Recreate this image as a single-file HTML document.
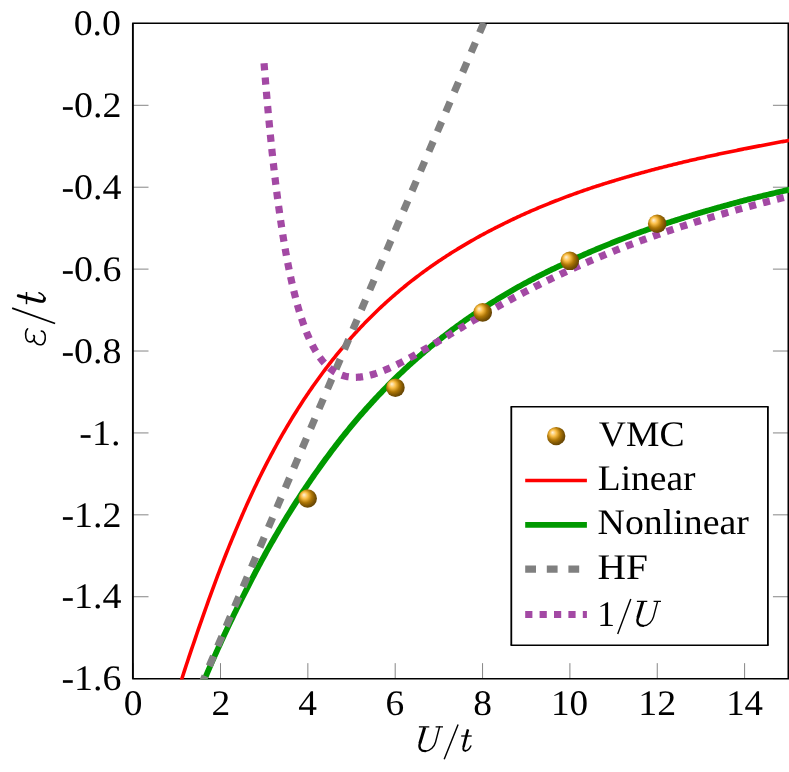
<!DOCTYPE html>
<html><head><meta charset="utf-8"><title>plot</title>
<style>
html,body{margin:0;padding:0;background:#fff;}
svg{display:block;}
text{font-family:"Liberation Serif",serif;fill:#000;text-rendering:geometricPrecision;}
svg{will-change:transform;}
</style></head><body>
<svg width="789" height="772" viewBox="0 0 789 772">
<defs>
<clipPath id="cp"><rect x="132.15" y="22.65" width="657.15" height="656.75"/></clipPath>
<radialGradient id="ball" cx="0.5" cy="0.5" r="1" fx="0.3" fy="0.3">
<stop offset="0" stop-color="rgb(254,242,218)"/>
<stop offset="0.18" stop-color="rgb(250,190,70)"/>
<stop offset="0.36" stop-color="rgb(174,118,6)"/>
<stop offset="0.5" stop-color="rgb(124,84,4)"/>
<stop offset="1" stop-color="rgb(0,0,0)"/>
</radialGradient>
</defs>
<rect width="789" height="772" fill="#fff"/>

<g stroke="#808080" stroke-width="0.95" fill="none">
<path d="M133.15 678.65 V663.15"/>
<path d="M220.50 678.65 V663.15"/>
<path d="M307.85 678.65 V663.15"/>
<path d="M395.20 678.65 V663.15"/>
<path d="M482.55 678.65 V663.15"/>
<path d="M569.90 678.65 V663.15"/>
<path d="M657.25 678.65 V663.15"/>
<path d="M744.60 678.65 V663.15"/>
<path d="M133.00 23.40 H148.50 M788.45 23.40 H772.95"/>
<path d="M133.00 105.31 H148.50 M788.45 105.31 H772.95"/>
<path d="M133.00 187.21 H148.50 M788.45 187.21 H772.95"/>
<path d="M133.00 269.12 H148.50 M788.45 269.12 H772.95"/>
<path d="M133.00 351.02 H148.50 M788.45 351.02 H772.95"/>
<path d="M133.00 432.93 H148.50 M788.45 432.93 H772.95"/>
<path d="M133.00 514.84 H148.50 M788.45 514.84 H772.95"/>
<path d="M133.00 596.74 H148.50 M788.45 596.74 H772.95"/>
<path d="M133.00 678.65 H148.50 M788.45 678.65 H772.95"/>
</g>
<path d="M132.90 23.35 H788.45 M132.90 678.65 H788.45" stroke="#000" stroke-width="1.5" fill="none" stroke-linecap="square"/>
<path d="M132.90 23.35 V678.65 M788.45 23.35 V678.65" stroke="#000" stroke-width="1.9" fill="none"/>
<g clip-path="url(#cp)" fill="none">
<path d="M166.84 730.12 L168.12 725.60 L169.39 721.10 L170.66 716.63 L171.94 712.19 L173.21 707.77 L174.48 703.39 L175.76 699.03 L177.03 694.70 L178.30 690.40 L179.58 686.13 L180.85 681.89 L182.19 677.70 L183.54 673.53 L184.88 669.40 L186.22 665.30 L187.57 661.22 L188.91 657.18 L190.26 653.17 L191.60 649.18 L192.95 645.23 L194.29 641.31 L195.62 637.41 L196.93 633.53 L198.25 629.69 L199.57 625.87 L200.89 622.09 L202.20 618.33 L203.52 614.61 L204.84 610.91 L206.13 607.24 L207.42 603.59 L208.72 599.97 L210.01 596.38 L211.30 592.82 L212.59 589.29 L213.88 585.78 L215.17 582.31 L216.46 578.86 L217.74 575.44 L219.03 572.04 L220.31 568.68 L221.60 565.34 L222.88 562.03 L224.17 558.74 L225.45 555.49 L226.74 552.26 L228.02 549.06 L229.30 545.88 L230.59 542.73 L231.87 539.61 L233.16 536.51 L234.44 533.44 L235.72 530.39 L236.99 527.37 L238.25 524.36 L239.52 521.39 L240.79 518.44 L242.05 515.51 L243.32 512.61 L244.58 509.73 L245.85 506.88 L247.12 504.05 L248.38 501.24 L249.65 498.46 L250.91 495.70 L252.18 492.97 L253.45 490.26 L254.71 487.57 L255.98 484.90 L257.24 482.26 L258.51 479.64 L259.79 477.04 L261.06 474.47 L262.33 471.92 L263.61 469.39 L264.88 466.88 L266.16 464.40 L267.43 461.93 L268.70 459.49 L269.98 457.06 L271.25 454.66 L272.53 452.28 L273.80 449.92 L275.08 447.58 L276.35 445.26 L277.62 442.95 L278.90 440.67 L280.17 438.41 L281.44 436.16 L282.72 433.94 L283.99 431.73 L285.27 429.55 L286.54 427.38 L287.81 425.23 L289.09 423.09 L290.36 420.98 L291.63 418.88 L292.91 416.80 L294.18 414.74 L295.45 412.70 L296.73 410.67 L298.00 408.66 L299.27 406.67 L300.55 404.69 L301.82 402.73 L303.09 400.79 L304.37 398.86 L305.64 396.95 L306.91 395.06 L308.19 393.18 L309.46 391.31 L310.73 389.46 L312.00 387.63 L313.28 385.81 L314.55 384.01 L315.82 382.22 L317.10 380.45 L318.37 378.69 L319.63 376.94 L320.90 375.21 L322.17 373.49 L323.43 371.78 L324.70 370.09 L325.97 368.41 L327.24 366.75 L328.50 365.10 L329.77 363.46 L331.04 361.84 L332.31 360.23 L333.57 358.63 L334.84 357.04 L336.11 355.47 L337.38 353.91 L338.64 352.36 L339.91 350.83 L341.18 349.30 L342.44 347.79 L343.71 346.29 L344.98 344.81 L346.25 343.33 L347.51 341.87 L348.78 340.42 L350.05 338.98 L351.32 337.55 L352.58 336.13 L353.85 334.73 L355.12 333.33 L356.39 331.95 L357.66 330.58 L358.93 329.21 L360.20 327.86 L361.47 326.52 L362.74 325.19 L364.00 323.87 L365.27 322.56 L366.54 321.26 L367.81 319.97 L369.08 318.69 L370.35 317.42 L371.62 316.16 L372.88 314.91 L374.15 313.67 L375.42 312.44 L376.69 311.21 L377.96 310.00 L379.23 308.80 L380.50 307.60 L381.76 306.41 L383.03 305.24 L384.30 304.07 L385.57 302.91 L386.84 301.76 L388.11 300.62 L389.37 299.48 L390.64 298.36 L391.91 297.24 L393.18 296.13 L394.45 295.03 L395.72 293.94 L396.99 292.85 L398.25 291.77 L399.52 290.71 L400.79 289.64 L402.06 288.59 L403.33 287.55 L404.59 286.51 L405.86 285.48 L407.13 284.45 L408.40 283.44 L409.67 282.43 L410.94 281.43 L412.20 280.43 L413.47 279.45 L414.74 278.47 L416.01 277.49 L417.28 276.53 L418.54 275.57 L419.81 274.62 L421.08 273.67 L422.35 272.73 L423.62 271.80 L424.89 270.87 L426.15 269.95 L427.42 269.04 L428.69 268.13 L429.96 267.23 L431.23 266.34 L432.49 265.45 L433.76 264.57 L435.03 263.69 L436.30 262.82 L437.57 261.96 L438.83 261.10 L440.10 260.25 L441.37 259.40 L442.64 258.56 L443.91 257.73 L445.17 256.90 L446.44 256.08 L447.71 255.26 L448.98 254.45 L450.25 253.64 L451.51 252.84 L452.78 252.04 L454.05 251.25 L455.32 250.46 L456.59 249.68 L457.85 248.91 L459.12 248.14 L460.39 247.37 L461.66 246.61 L462.92 245.85 L464.19 245.09 L465.45 244.34 L466.72 243.60 L467.98 242.86 L469.25 242.12 L470.51 241.39 L471.78 240.66 L473.04 239.94 L474.31 239.22 L475.57 238.51 L476.84 237.80 L478.10 237.10 L479.37 236.40 L480.64 235.70 L481.90 235.01 L483.17 234.33 L484.43 233.64 L485.70 232.97 L486.96 232.29 L488.23 231.62 L489.50 230.96 L490.76 230.30 L492.03 229.64 L493.29 228.99 L494.56 228.34 L495.82 227.69 L497.09 227.05 L498.36 226.41 L499.62 225.78 L500.89 225.15 L502.15 224.52 L503.41 223.89 L504.68 223.26 L505.94 222.64 L507.20 222.03 L508.47 221.41 L509.73 220.80 L510.99 220.20 L512.26 219.60 L513.52 219.00 L514.78 218.40 L516.05 217.81 L517.31 217.22 L518.57 216.63 L519.84 216.05 L521.10 215.47 L522.37 214.90 L523.63 214.33 L524.89 213.76 L526.16 213.19 L527.42 212.63 L528.69 212.07 L529.95 211.51 L531.21 210.96 L532.48 210.41 L533.74 209.86 L535.01 209.32 L536.27 208.78 L537.54 208.24 L538.80 207.70 L540.07 207.17 L541.33 206.64 L542.60 206.12 L543.86 205.60 L545.13 205.08 L546.39 204.57 L547.66 204.06 L548.93 203.55 L550.19 203.04 L551.46 202.54 L552.72 202.04 L553.99 201.54 L555.26 201.04 L556.52 200.55 L557.79 200.06 L559.05 199.57 L560.32 199.08 L561.59 198.60 L562.85 198.12 L564.12 197.64 L565.39 197.17 L566.65 196.69 L567.92 196.22 L569.18 195.76 L570.45 195.29 L571.72 194.83 L572.98 194.37 L574.25 193.91 L575.52 193.45 L576.78 193.00 L578.05 192.55 L579.32 192.10 L580.58 191.65 L581.85 191.21 L583.12 190.76 L584.38 190.32 L585.65 189.89 L586.92 189.45 L588.18 189.02 L589.45 188.58 L590.72 188.16 L591.99 187.74 L593.26 187.32 L594.53 186.90 L595.79 186.49 L597.06 186.08 L598.33 185.67 L599.60 185.26 L600.87 184.86 L602.14 184.45 L603.41 184.05 L604.68 183.65 L605.95 183.25 L607.22 182.86 L608.49 182.46 L609.76 182.07 L611.03 181.68 L612.29 181.29 L613.56 180.91 L614.83 180.52 L616.10 180.14 L617.37 179.76 L618.64 179.38 L619.91 179.00 L621.18 178.62 L622.45 178.25 L623.72 177.88 L624.99 177.51 L626.26 177.14 L627.52 176.77 L628.79 176.40 L630.06 176.04 L631.33 175.68 L632.60 175.32 L633.87 174.96 L635.14 174.60 L636.41 174.24 L637.68 173.89 L638.95 173.54 L640.22 173.19 L641.49 172.84 L642.76 172.49 L644.03 172.15 L645.30 171.80 L646.56 171.46 L647.83 171.12 L649.10 170.78 L650.37 170.44 L651.64 170.10 L652.91 169.77 L654.18 169.43 L655.45 169.10 L656.72 168.77 L657.99 168.44 L659.26 168.11 L660.53 167.78 L661.80 167.46 L663.07 167.13 L664.34 166.81 L665.61 166.49 L666.88 166.17 L668.14 165.85 L669.41 165.53 L670.68 165.22 L671.95 164.90 L673.22 164.59 L674.49 164.27 L675.76 163.96 L677.03 163.65 L678.30 163.34 L679.57 163.03 L680.84 162.73 L682.11 162.42 L683.38 162.12 L684.65 161.81 L685.92 161.51 L687.19 161.21 L688.45 160.91 L689.72 160.61 L690.99 160.32 L692.26 160.02 L693.53 159.73 L694.80 159.44 L696.07 159.15 L697.34 158.86 L698.61 158.57 L699.88 158.28 L701.15 158.00 L702.42 157.71 L703.69 157.43 L704.96 157.15 L706.23 156.86 L707.50 156.58 L708.77 156.30 L710.04 156.02 L711.31 155.75 L712.58 155.47 L713.85 155.19 L715.12 154.92 L716.39 154.64 L717.66 154.37 L718.93 154.10 L720.20 153.83 L721.47 153.56 L722.74 153.29 L724.01 153.02 L725.28 152.75 L726.55 152.48 L727.82 152.22 L729.09 151.95 L730.36 151.69 L731.63 151.43 L732.90 151.17 L734.17 150.91 L735.44 150.65 L736.71 150.39 L737.98 150.14 L739.25 149.88 L740.52 149.62 L741.79 149.37 L743.06 149.12 L744.33 148.86 L745.60 148.61 L746.87 148.36 L748.14 148.11 L749.41 147.86 L750.68 147.61 L751.95 147.36 L753.22 147.12 L754.49 146.87 L755.77 146.63 L757.04 146.38 L758.31 146.14 L759.58 145.89 L760.85 145.65 L762.12 145.41 L763.39 145.17 L764.66 144.93 L765.93 144.69 L767.20 144.45 L768.47 144.21 L769.74 143.97 L771.01 143.73 L772.28 143.50 L773.55 143.26 L774.82 143.03 L776.09 142.79 L777.36 142.55 L778.63 142.32 L779.90 142.08 L781.17 141.85 L782.44 141.62 L783.71 141.38 L784.98 141.15 L786.25 140.92 L787.52 140.69 L788.79 140.46 L790.05 140.23 L791.32 140.00 L792.59 139.77 L793.86 139.55 L795.13 139.32 L796.40 139.09 L797.67 138.87 L798.94 138.64 L800.21 138.41 L801.48 138.18" stroke="#ff0000" stroke-width="3.6"/>
<path d="M167.94 773.80 L169.21 770.29 L170.48 766.80 L171.75 763.33 L173.02 759.87 L174.29 756.43 L175.56 753.00 L176.83 749.60 L178.10 746.20 L179.37 742.83 L180.64 739.47 L181.91 736.13 L183.18 732.80 L184.44 729.49 L185.71 726.20 L186.98 722.92 L188.25 719.66 L189.52 716.42 L190.79 713.19 L192.06 709.98 L193.33 706.79 L194.60 703.61 L195.87 700.45 L197.14 697.31 L198.41 694.19 L199.68 691.08 L200.94 687.98 L202.21 684.91 L203.48 681.85 L204.75 678.81 L206.02 675.78 L207.29 672.77 L208.57 669.78 L209.87 666.82 L211.16 663.87 L212.45 660.94 L213.75 658.02 L215.04 655.12 L216.34 652.24 L217.63 649.37 L218.93 646.52 L220.22 643.69 L221.51 640.87 L222.81 638.07 L224.10 635.29 L225.40 632.52 L226.69 629.77 L227.98 627.04 L229.28 624.32 L230.57 621.61 L231.86 618.92 L233.16 616.25 L234.45 613.60 L235.75 610.96 L237.04 608.33 L238.33 605.72 L239.63 603.13 L240.92 600.55 L242.21 597.99 L243.50 595.44 L244.80 592.91 L246.08 590.39 L247.35 587.88 L248.62 585.38 L249.89 582.90 L251.16 580.43 L252.43 577.98 L253.70 575.54 L254.97 573.12 L256.24 570.71 L257.51 568.32 L258.78 565.94 L260.05 563.57 L261.32 561.22 L262.59 558.89 L263.86 556.56 L265.13 554.26 L266.40 551.96 L267.67 549.68 L268.94 547.41 L270.21 545.16 L271.48 542.92 L272.75 540.70 L274.02 538.49 L275.29 536.29 L276.56 534.10 L277.83 531.93 L279.10 529.78 L280.37 527.63 L281.64 525.50 L282.91 523.38 L284.18 521.28 L285.44 519.18 L286.71 517.10 L287.98 515.04 L289.25 512.98 L290.52 510.94 L291.79 508.91 L293.06 506.90 L294.33 504.89 L295.60 502.90 L296.87 500.92 L298.14 498.95 L299.41 497.00 L300.68 495.05 L301.95 493.12 L303.22 491.20 L304.49 489.29 L305.75 487.40 L307.02 485.51 L308.29 483.64 L309.56 481.78 L310.83 479.93 L312.10 478.09 L313.37 476.26 L314.64 474.45 L315.91 472.64 L317.18 470.85 L318.45 469.07 L319.72 467.29 L320.98 465.53 L322.24 463.77 L323.50 462.03 L324.76 460.29 L326.02 458.57 L327.28 456.85 L328.54 455.15 L329.80 453.45 L331.06 451.77 L332.32 450.10 L333.58 448.43 L334.84 446.78 L336.11 445.14 L337.37 443.50 L338.63 441.88 L339.89 440.26 L341.15 438.66 L342.41 437.06 L343.67 435.48 L344.93 433.90 L346.19 432.34 L347.45 430.78 L348.71 429.23 L349.97 427.69 L351.23 426.17 L352.49 424.65 L353.75 423.13 L355.01 421.63 L356.27 420.14 L357.53 418.66 L358.80 417.18 L360.06 415.71 L361.32 414.26 L362.59 412.81 L363.85 411.38 L365.12 409.95 L366.38 408.53 L367.65 407.12 L368.92 405.72 L370.18 404.32 L371.45 402.94 L372.71 401.56 L373.98 400.19 L375.24 398.83 L376.51 397.47 L377.78 396.13 L379.04 394.79 L380.31 393.46 L381.57 392.14 L382.84 390.83 L384.11 389.52 L385.37 388.22 L386.64 386.93 L387.90 385.65 L389.17 384.37 L390.43 383.10 L391.70 381.84 L392.97 380.59 L394.23 379.34 L395.50 378.10 L396.76 376.87 L398.03 375.64 L399.30 374.43 L400.56 373.22 L401.84 372.02 L403.11 370.83 L404.38 369.65 L405.65 368.47 L406.93 367.30 L408.20 366.14 L409.47 364.98 L410.74 363.83 L412.02 362.69 L413.29 361.56 L414.56 360.43 L415.83 359.30 L417.10 358.19 L418.38 357.08 L419.65 355.98 L420.92 354.88 L422.19 353.79 L423.47 352.70 L424.74 351.63 L426.01 350.55 L427.28 349.49 L428.55 348.43 L429.83 347.37 L431.10 346.33 L432.37 345.28 L433.64 344.25 L434.91 343.22 L436.18 342.19 L437.46 341.18 L438.73 340.16 L440.00 339.16 L441.27 338.16 L442.55 337.16 L443.82 336.18 L445.09 335.19 L446.37 334.22 L447.64 333.25 L448.91 332.28 L450.19 331.32 L451.46 330.37 L452.73 329.42 L454.01 328.47 L455.28 327.54 L456.55 326.60 L457.83 325.67 L459.10 324.75 L460.37 323.83 L461.65 322.92 L462.92 322.01 L464.19 321.11 L465.47 320.21 L466.74 319.32 L468.01 318.43 L469.28 317.55 L470.56 316.67 L471.83 315.80 L473.10 314.93 L474.37 314.07 L475.65 313.21 L476.92 312.36 L478.19 311.51 L479.46 310.66 L480.74 309.82 L482.01 308.99 L483.28 308.15 L484.55 307.33 L485.83 306.51 L487.10 305.69 L488.37 304.88 L489.64 304.07 L490.92 303.26 L492.19 302.46 L493.46 301.67 L494.73 300.88 L496.00 300.09 L497.28 299.31 L498.55 298.53 L499.82 297.75 L501.09 296.98 L502.36 296.22 L503.64 295.45 L504.91 294.70 L506.18 293.94 L507.45 293.19 L508.72 292.45 L510.00 291.70 L511.27 290.96 L512.54 290.23 L513.81 289.50 L515.08 288.77 L516.35 288.05 L517.62 287.33 L518.90 286.62 L520.17 285.91 L521.44 285.20 L522.72 284.51 L523.99 283.82 L525.27 283.13 L526.55 282.44 L527.82 281.76 L529.10 281.08 L530.37 280.41 L531.65 279.74 L532.92 279.07 L534.20 278.41 L535.48 277.75 L536.75 277.09 L538.03 276.44 L539.30 275.79 L540.58 275.15 L541.85 274.50 L543.13 273.87 L544.40 273.23 L545.68 272.60 L546.95 271.97 L548.23 271.34 L549.50 270.72 L550.78 270.10 L552.05 269.48 L553.32 268.87 L554.60 268.26 L555.87 267.65 L557.15 267.05 L558.42 266.45 L559.70 265.85 L560.97 265.26 L562.24 264.65 L563.50 264.04 L564.77 263.44 L566.03 262.84 L567.30 262.24 L568.57 261.65 L569.83 261.06 L571.10 260.47 L572.36 259.89 L573.63 259.30 L574.90 258.72 L576.16 258.15 L577.43 257.57 L578.69 257.00 L579.96 256.44 L581.23 255.87 L582.49 255.31 L583.76 254.75 L585.02 254.19 L586.29 253.64 L587.56 253.08 L588.82 252.54 L590.09 251.99 L591.36 251.44 L592.62 250.90 L593.89 250.36 L595.15 249.83 L596.42 249.29 L597.69 248.76 L598.95 248.23 L600.22 247.71 L601.48 247.18 L602.75 246.66 L604.02 246.14 L605.28 245.62 L606.55 245.10 L607.81 244.59 L609.08 244.08 L610.34 243.57 L611.61 243.06 L612.87 242.55 L614.14 242.05 L615.40 241.55 L616.67 241.05 L617.93 240.56 L619.20 240.07 L620.46 239.57 L621.73 239.09 L622.99 238.60 L624.26 238.12 L625.53 237.63 L626.79 237.15 L628.06 236.68 L629.32 236.20 L630.59 235.73 L631.85 235.26 L633.12 234.79 L634.38 234.32 L635.65 233.86 L636.92 233.39 L638.18 232.93 L639.45 232.47 L640.71 232.02 L641.98 231.57 L643.25 231.12 L644.51 230.67 L645.78 230.23 L647.05 229.78 L648.31 229.34 L649.58 228.90 L650.85 228.47 L652.12 228.03 L653.38 227.60 L654.65 227.17 L655.92 226.74 L657.18 226.31 L658.45 225.88 L659.72 225.46 L660.98 225.04 L662.25 224.62 L663.52 224.20 L664.78 223.78 L666.05 223.37 L667.32 222.96 L668.59 222.55 L669.85 222.14 L671.12 221.73 L672.39 221.33 L673.65 220.92 L674.92 220.52 L676.19 220.12 L677.46 219.72 L678.72 219.33 L679.99 218.93 L681.26 218.53 L682.52 218.14 L683.79 217.74 L685.05 217.35 L686.32 216.96 L687.58 216.56 L688.85 216.18 L690.11 215.79 L691.38 215.40 L692.64 215.02 L693.91 214.64 L695.17 214.26 L696.44 213.88 L697.71 213.50 L698.97 213.12 L700.24 212.75 L701.50 212.38 L702.77 212.01 L704.03 211.64 L705.30 211.27 L706.57 210.90 L707.83 210.54 L709.10 210.17 L710.36 209.81 L711.63 209.45 L712.89 209.09 L714.16 208.73 L715.43 208.38 L716.69 208.02 L717.96 207.67 L719.22 207.32 L720.49 206.97 L721.75 206.61 L723.02 206.25 L724.28 205.90 L725.54 205.55 L726.81 205.20 L728.07 204.85 L729.34 204.50 L730.60 204.15 L731.86 203.81 L733.13 203.46 L734.39 203.12 L735.66 202.78 L736.92 202.44 L738.19 202.10 L739.45 201.76 L740.71 201.42 L741.98 201.09 L743.24 200.75 L744.51 200.42 L745.77 200.09 L747.04 199.76 L748.30 199.43 L749.57 199.11 L750.83 198.78 L752.10 198.47 L753.36 198.15 L754.63 197.84 L755.90 197.52 L757.16 197.21 L758.43 196.90 L759.70 196.59 L760.96 196.29 L762.23 195.98 L763.50 195.67 L764.76 195.37 L766.03 195.07 L767.30 194.76 L768.56 194.46 L769.83 194.16 L771.10 193.87 L772.37 193.57 L773.63 193.27 L774.90 192.98 L776.17 192.68 L777.43 192.39 L778.70 192.10 L779.97 191.81 L781.23 191.52 L782.50 191.23 L783.77 190.95 L785.03 190.66 L786.30 190.38 L787.57 190.09 L788.84 189.81 L790.10 189.53 L791.37 189.25 L792.64 188.97 L793.90 188.69 L795.17 188.41 L796.44 188.14 L797.71 187.86 L798.97 187.59 L800.24 187.31 L801.51 187.05" stroke="#009900" stroke-width="5.8"/>
<path d="M199.97 687.80 L488.31 12.31" stroke="#808080" stroke-width="7.2" stroke-dasharray="10.76 10.76" stroke-dashoffset="19.34"/>
<path d="M264.04 63.17 L264.94 74.46 L265.83 85.36 L266.73 95.90 L267.63 106.08 L268.52 115.91 L269.42 125.42 L270.32 134.60 L271.22 143.47 L272.11 152.04 L273.01 160.33 L273.91 168.34 L274.80 176.08 L275.70 183.56 L276.60 190.79 L277.49 197.79 L278.39 204.54 L279.29 211.07 L280.18 217.39 L281.08 223.49 L281.98 229.39 L282.88 235.09 L283.77 240.60 L284.67 245.93 L285.57 251.08 L286.46 256.05 L287.36 260.86 L288.26 265.51 L289.15 270.00 L290.05 274.34 L290.95 278.54 L291.84 282.59 L292.74 286.51 L293.64 290.29 L294.54 293.94 L295.43 297.47 L296.33 300.88 L297.23 304.17 L298.12 307.35 L299.02 310.42 L299.92 313.38 L300.81 316.24 L301.71 318.99 L302.61 321.65 L303.51 324.22 L304.40 326.70 L305.30 329.08 L306.20 331.39 L307.09 333.60 L307.99 335.74 L308.89 337.80 L309.78 339.78 L310.68 341.69 L311.58 343.53 L312.47 345.30 L313.37 347.00 L314.27 348.63 L315.17 350.20 L316.06 351.71 L316.96 353.16 L317.86 354.56 L318.75 355.89 L319.65 357.17 L320.55 358.40 L321.44 359.57 L322.34 360.70 L323.24 361.78 L324.13 362.81 L325.03 363.79 L325.93 364.73 L326.83 365.62 L327.72 366.48 L328.62 367.29 L329.52 368.06 L330.41 368.79 L331.31 369.49 L332.21 370.15 L333.10 370.77 L334.00 371.36 L334.90 371.92 L335.79 372.44 L336.69 372.93 L337.59 373.39 L338.49 373.82 L339.38 374.22 L340.28 374.60 L341.18 374.94 L342.07 375.26 L342.97 375.56 L343.87 375.82 L344.76 376.07 L345.66 376.29 L346.56 376.48 L347.45 376.66 L348.35 376.81 L349.25 376.94 L350.15 377.05 L351.04 377.14 L351.94 377.21 L352.84 377.26 L353.73 377.29 L354.63 377.31 L355.53 377.30 L356.42 377.28 L357.32 377.25 L358.22 377.19 L359.12 377.12 L360.01 377.04 L360.91 376.94 L361.81 376.83 L362.70 376.70 L363.60 376.56 L364.50 376.41 L365.39 376.24 L366.29 376.07 L367.19 375.88 L368.08 375.67 L368.98 375.46 L369.88 375.24 L370.78 375.00 L371.67 374.75 L372.57 374.50 L373.47 374.23 L374.36 373.96 L375.26 373.67 L376.16 373.38 L377.05 373.07 L377.95 372.76 L378.85 372.44 L379.74 372.12 L380.64 371.78 L381.54 371.44 L382.44 371.09 L383.33 370.73 L384.23 370.37 L385.13 370.00 L386.02 369.62 L386.92 369.23 L387.82 368.84 L388.71 368.45 L389.61 368.05 L390.51 367.64 L391.40 367.23 L392.30 366.81 L393.20 366.39 L394.10 365.96 L394.99 365.53 L395.89 365.09 L396.79 364.65 L397.68 364.20 L398.58 363.75 L399.48 363.30 L400.37 362.84 L401.27 362.38 L402.17 361.92 L403.06 361.45 L403.96 360.98 L404.86 360.50 L405.76 360.02 L406.65 359.54 L407.55 359.06 L408.45 358.57 L409.34 358.08 L410.24 357.59 L411.14 357.09 L412.03 356.60 L412.93 356.10 L413.83 355.60 L414.73 355.09 L415.62 354.59 L416.52 354.08 L417.42 353.57 L418.31 353.06 L419.21 352.54 L420.11 352.03 L421.00 351.51 L421.90 350.99 L422.80 350.48 L423.69 349.95 L424.59 349.43 L425.49 348.91 L426.39 348.39 L427.28 347.86 L428.18 347.33 L429.08 346.81 L429.97 346.28 L430.87 345.75 L431.77 345.22 L432.66 344.69 L433.56 344.16 L434.46 343.62 L435.35 343.09 L436.25 342.56 L437.15 342.03 L438.05 341.49 L438.94 340.96 L439.84 340.42 L440.74 339.89 L441.63 339.35 L442.53 338.82 L443.43 338.28 L444.32 337.75 L445.22 337.21 L446.12 336.67 L447.01 336.14 L447.91 335.60 L448.81 335.07 L449.71 334.53 L450.60 333.99 L451.50 333.46 L452.40 332.92 L453.29 332.39 L454.19 331.85 L455.09 331.32 L455.98 330.78 L456.88 330.25 L457.78 329.72 L458.67 329.18 L459.57 328.65 L460.47 328.12 L461.37 327.58 L462.26 327.05 L463.16 326.52 L464.06 325.99 L464.95 325.46 L465.85 324.93 L466.75 324.40 L467.64 323.87 L468.54 323.34 L469.44 322.82 L470.34 322.29 L471.23 321.76 L472.13 321.24 L473.03 320.71 L473.92 320.19 L474.82 319.67 L475.72 319.14 L476.61 318.62 L477.51 318.10 L478.41 317.58 L479.30 317.06 L480.20 316.54 L481.10 316.03 L482.00 315.51 L482.89 314.99 L483.79 314.48 L484.69 313.96 L485.58 313.45 L486.48 312.94 L487.38 312.43 L488.27 311.92 L489.17 311.41 L490.07 310.90 L490.96 310.39 L491.86 309.88 L492.76 309.38 L493.66 308.87 L494.55 308.37 L495.45 307.87 L496.35 307.36 L497.24 306.86 L498.14 306.36 L499.04 305.86 L499.93 305.37 L500.83 304.87 L501.73 304.37 L502.62 303.88 L503.52 303.39 L504.42 302.89 L505.32 302.40 L506.21 301.91 L507.11 301.42 L508.01 300.93 L508.90 300.44 L509.80 299.96 L510.70 299.47 L511.59 298.99 L512.49 298.51 L513.39 298.02 L514.28 297.54 L515.18 297.06 L516.08 296.59 L516.98 296.11 L517.87 295.63 L518.77 295.16 L519.67 294.68 L520.56 294.21 L521.46 293.74 L522.36 293.27 L523.25 292.80 L524.15 292.33 L525.05 291.86 L525.94 291.39 L526.84 290.93 L527.74 290.46 L528.64 290.00 L529.53 289.54 L530.43 289.08 L531.33 288.62 L532.22 288.16 L533.12 287.70 L534.02 287.25 L534.91 286.79 L535.81 286.34 L536.71 285.89 L537.61 285.44 L538.50 284.98 L539.40 284.54 L540.30 284.09 L541.19 283.64 L542.09 283.19 L542.99 282.75 L543.88 282.31 L544.78 281.86 L545.68 281.42 L546.57 280.98 L547.47 280.54 L548.37 280.11 L549.27 279.67 L550.16 279.23 L551.06 278.80 L551.96 278.37 L552.85 277.93 L553.75 277.50 L554.65 277.07 L555.54 276.64 L556.44 276.22 L557.34 275.79 L558.23 275.36 L559.13 274.94 L560.03 274.52 L560.93 274.09 L561.82 273.67 L562.72 273.25 L563.62 272.83 L564.51 272.42 L565.41 272.00 L566.31 271.58 L567.20 271.17 L568.10 270.76 L569.00 270.34 L569.89 269.93 L570.79 269.52 L571.69 269.12 L572.59 268.71 L573.48 268.30 L574.38 267.90 L575.28 267.49 L576.17 267.09 L577.07 266.69 L577.97 266.28 L578.86 265.88 L579.76 265.48 L580.66 265.09 L581.55 264.69 L582.45 264.29 L583.35 263.90 L584.25 263.51 L585.14 263.11 L586.04 262.72 L586.94 262.33 L587.83 261.94 L588.73 261.55 L589.63 261.17 L590.52 260.78 L591.42 260.39 L592.32 260.01 L593.22 259.63 L594.11 259.25 L595.01 258.86 L595.91 258.48 L596.80 258.10 L597.70 257.73 L598.60 257.35 L599.49 256.97 L600.39 256.60 L601.29 256.23 L602.18 255.85 L603.08 255.48 L603.98 255.11 L604.88 254.74 L605.77 254.37 L606.67 254.00 L607.57 253.64 L608.46 253.27 L609.36 252.91 L610.26 252.54 L611.15 252.18 L612.05 251.82 L612.95 251.46 L613.84 251.10 L614.74 250.74 L615.64 250.38 L616.54 250.02 L617.43 249.67 L618.33 249.31 L619.23 248.96 L620.12 248.60 L621.02 248.25 L621.92 247.90 L622.81 247.55 L623.71 247.20 L624.61 246.85 L625.50 246.51 L626.40 246.16 L627.30 245.81 L628.20 245.47 L629.09 245.13 L629.99 244.78 L630.89 244.44 L631.78 244.10 L632.68 243.76 L633.58 243.42 L634.47 243.08 L635.37 242.75 L636.27 242.41 L637.16 242.07 L638.06 241.74 L638.96 241.41 L639.86 241.07 L640.75 240.74 L641.65 240.41 L642.55 240.08 L643.44 239.75 L644.34 239.42 L645.24 239.10 L646.13 238.77 L647.03 238.44 L647.93 238.12 L648.83 237.80 L649.72 237.47 L650.62 237.15 L651.52 236.83 L652.41 236.51 L653.31 236.19 L654.21 235.87 L655.10 235.55 L656.00 235.24 L656.90 234.92 L657.79 234.60 L658.69 234.29 L659.59 233.98 L660.49 233.66 L661.38 233.35 L662.28 233.04 L663.18 232.73 L664.07 232.42 L664.97 232.11 L665.87 231.80 L666.76 231.50 L667.66 231.19 L668.56 230.89 L669.45 230.58 L670.35 230.28 L671.25 229.98 L672.15 229.67 L673.04 229.37 L673.94 229.07 L674.84 228.77 L675.73 228.47 L676.63 228.17 L677.53 227.88 L678.42 227.58 L679.32 227.28 L680.22 226.99 L681.11 226.70 L682.01 226.40 L682.91 226.11 L683.81 225.82 L684.70 225.53 L685.60 225.24 L686.50 224.95 L687.39 224.66 L688.29 224.37 L689.19 224.08 L690.08 223.80 L690.98 223.51 L691.88 223.22 L692.77 222.94 L693.67 222.66 L694.57 222.37 L695.47 222.09 L696.36 221.81 L697.26 221.53 L698.16 221.25 L699.05 220.97 L699.95 220.69 L700.85 220.41 L701.74 220.14 L702.64 219.86 L703.54 219.58 L704.44 219.31 L705.33 219.03 L706.23 218.76 L707.13 218.49 L708.02 218.22 L708.92 217.95 L709.82 217.67 L710.71 217.40 L711.61 217.13 L712.51 216.87 L713.40 216.60 L714.30 216.33 L715.20 216.06 L716.10 215.80 L716.99 215.53 L717.89 215.27 L718.79 215.00 L719.68 214.74 L720.58 214.48 L721.48 214.22 L722.37 213.96 L723.27 213.70 L724.17 213.44 L725.06 213.18 L725.96 212.92 L726.86 212.66 L727.76 212.40 L728.65 212.15 L729.55 211.89 L730.45 211.63 L731.34 211.38 L732.24 211.13 L733.14 210.87 L734.03 210.62 L734.93 210.37 L735.83 210.12 L736.72 209.87 L737.62 209.61 L738.52 209.37 L739.42 209.12 L740.31 208.87 L741.21 208.62 L742.11 208.37 L743.00 208.13 L743.90 207.88 L744.80 207.64 L745.69 207.39 L746.59 207.15 L747.49 206.90 L748.38 206.66 L749.28 206.42 L750.18 206.18 L751.08 205.94 L751.97 205.69 L752.87 205.45 L753.77 205.22 L754.66 204.98 L755.56 204.74 L756.46 204.50 L757.35 204.26 L758.25 204.03 L759.15 203.79 L760.04 203.56 L760.94 203.32 L761.84 203.09 L762.74 202.85 L763.63 202.62 L764.53 202.39 L765.43 202.16 L766.32 201.93 L767.22 201.70 L768.12 201.47 L769.01 201.24 L769.91 201.01 L770.81 200.78 L771.71 200.55 L772.60 200.32 L773.50 200.10 L774.40 199.87 L775.29 199.64 L776.19 199.42 L777.09 199.20 L777.98 198.97 L778.88 198.75 L779.78 198.52 L780.67 198.30 L781.57 198.08 L782.47 197.86 L783.37 197.64 L784.26 197.42 L785.16 197.20 L786.06 196.98 L786.95 196.76 L787.85 196.54 L788.75 196.32 L789.64 196.11 L790.54 195.89 L791.44 195.67 L792.33 195.46 L793.23 195.24 L794.13 195.03 L795.03 194.81 L795.92 194.60 L796.82 194.39 L797.72 194.18 L798.61 193.96 L799.51 193.75 L800.41 193.54 L801.30 193.33" stroke="#a349a4" stroke-width="7.2" stroke-dasharray="7.2 7.163"/>
</g>
<circle cx="307.60" cy="498.50" r="9.3" fill="url(#ball)"/>
<circle cx="395.40" cy="387.70" r="9.3" fill="url(#ball)"/>
<circle cx="482.70" cy="312.40" r="9.3" fill="url(#ball)"/>
<circle cx="569.80" cy="260.80" r="9.3" fill="url(#ball)"/>
<circle cx="657.20" cy="223.75" r="9.3" fill="url(#ball)"/>
<text transform="translate(73.72,35.10) scale(1.0500,1)" font-size="36">0.0</text>
<text transform="translate(61.38,117.01) scale(1.0549,1)" font-size="36">-0.2</text>
<text transform="translate(61.38,198.91) scale(1.0549,1)" font-size="36">-0.4</text>
<text transform="translate(61.38,280.82) scale(1.0549,1)" font-size="36">-0.6</text>
<text transform="translate(61.38,362.72) scale(1.0549,1)" font-size="36">-0.8</text>
<text transform="translate(79.28,444.63) scale(1.0582,1)" font-size="36">-1.</text>
<text transform="translate(61.38,526.54) scale(1.0549,1)" font-size="36">-1.2</text>
<text transform="translate(61.38,608.44) scale(1.0549,1)" font-size="36">-1.4</text>
<text transform="translate(61.38,690.35) scale(1.0549,1)" font-size="36">-1.6</text>
<text transform="translate(123.79,715.10) scale(1.0400,1)" font-size="36">0</text>
<text transform="translate(211.40,715.10) scale(1.0400,1)" font-size="36">2</text>
<text transform="translate(298.36,715.10) scale(1.0400,1)" font-size="36">4</text>
<text transform="translate(385.58,715.10) scale(1.0400,1)" font-size="36">6</text>
<text transform="translate(473.19,715.10) scale(1.0400,1)" font-size="36">8</text>
<text transform="translate(550.94,715.10) scale(1.0336,1)" font-size="36">10</text>
<text transform="translate(638.29,715.10) scale(1.0504,1)" font-size="36">12</text>
<text transform="translate(726.17,715.10) scale(1.0233,1)" font-size="36">14</text>
<g fill="none" stroke="#000" stroke-linecap="round" stroke-linejoin="round">
<path d="M418.9 726.8 H429.3 M435.6 726.8 H443.0" stroke-width="1.3" stroke-linecap="butt"/>
<path d="M424.7 727.2 L419.9 743.2" stroke-width="3.0" stroke-linecap="butt"/>
<path d="M419.9 743.2 C418.3 748.3 420.9 751.2 425.3 751.2" stroke-width="2.3"/>
<path d="M425.3 751.2 C430.5 751.2 434.3 746.6 435.5 742.3 L439.5 727.0" stroke-width="1.4"/>
</g>
<path d="M458.1 724.4 L444.2 759.3" stroke="#000" stroke-width="1.45" fill="none"/>
<g fill="none" stroke="#000" stroke-linecap="round" stroke-linejoin="round">
<path d="M468.0 729.4 L463.5 747.0" stroke-width="2.5" stroke-linecap="butt"/>
<path d="M463.5 747.0 Q462.6 750.8 465.3 750.8" stroke-width="1.9"/>
<path d="M465.3 750.8 Q468.6 750.8 470.9 745.9" stroke-width="1.3"/>
<path d="M461.2 736.0 H471.7" stroke-width="1.3" stroke-linecap="butt"/>
</g>
<g fill="none" stroke="#000" stroke-linecap="round" stroke-linejoin="round">
<path d="M18.3 295.7 L39.0 301.0 Q44.6 302.4 44.5 298.6" stroke-width="3.0"/>
<path d="M44.5 298.6 Q44.0 294.8 38.9 292.8" stroke-width="1.5"/>
<path d="M26.5 292.0 V304.2" stroke-width="1.5" stroke-linecap="butt"/>
<path d="M27.6 328.8 C25.2 330.4 24.8 337.5 27.2 340.4 C29.0 342.6 32.6 342.4 33.8 339.6 C34.6 337.6 34.6 335.4 33.6 335.6" stroke-width="1.6"/>
<path d="M33.9 339.4 C34.6 343.0 38.6 345.6 42.0 344.4 C45.8 342.8 46.0 335.6 44.2 332.8 C43.6 331.8 42.4 331.1 41.3 331.1" stroke-width="1.6"/>
</g>
<path d="M55.1 323.5 L12.15 308.1" stroke="#000" stroke-width="1.7" fill="none"/>
<rect x="511.3" y="406.8" width="256.6" height="238.5" fill="#fff"/>
<path d="M511.3 406.8 H767.9 M511.3 645.3 H767.9" stroke="#000" stroke-width="1.5" fill="none" stroke-linecap="square"/>
<path d="M511.3 406.8 V645.3 M767.9 406.8 V645.3" stroke="#000" stroke-width="1.8" fill="none"/>
<circle cx="556.2" cy="436.10" r="9.2" fill="url(#ball)"/>
<path d="M525.20 480.50 H586.90" stroke="#ff0000" stroke-width="3.6"/>
<path d="M525.20 524.90 H586.90" stroke="#009900" stroke-width="5.8"/>
<path d="M525.20 569.10 H586.90" stroke="#808080" stroke-width="7.2" stroke-dasharray="10.8 10.8"/>
<path d="M525.20 614.50 H586.90" stroke="#a349a4" stroke-width="7.2" stroke-dasharray="7.2 7.2"/>
<text transform="translate(598.78,445.60) scale(1.0453,1)" font-size="36">VMC</text>
<text transform="translate(597.76,490.00) scale(1.0411,1)" font-size="36">Linear</text>
<text transform="translate(597.55,534.40) scale(1.0512,1)" font-size="36">Nonlinear</text>
<text transform="translate(597.51,578.60) scale(1.0949,1)" font-size="36">HF</text>
<text transform="translate(597.20,625.60) scale(0.9840,1)" font-size="36">1</text>
<path d="M630.8 599.0 L617.7 634.1" stroke="#000" stroke-width="1.45" fill="none"/>
<g transform="translate(218.0,-125.4)" fill="none" stroke="#000" stroke-linecap="round" stroke-linejoin="round">
<path d="M418.9 726.8 H429.3 M435.6 726.8 H443.0" stroke-width="1.3" stroke-linecap="butt"/>
<path d="M424.7 727.2 L419.9 743.2" stroke-width="3.0" stroke-linecap="butt"/>
<path d="M419.9 743.2 C418.3 748.3 420.9 751.2 425.3 751.2" stroke-width="2.3"/>
<path d="M425.3 751.2 C430.5 751.2 434.3 746.6 435.5 742.3 L439.5 727.0" stroke-width="1.4"/>
</g>
</svg></body></html>
